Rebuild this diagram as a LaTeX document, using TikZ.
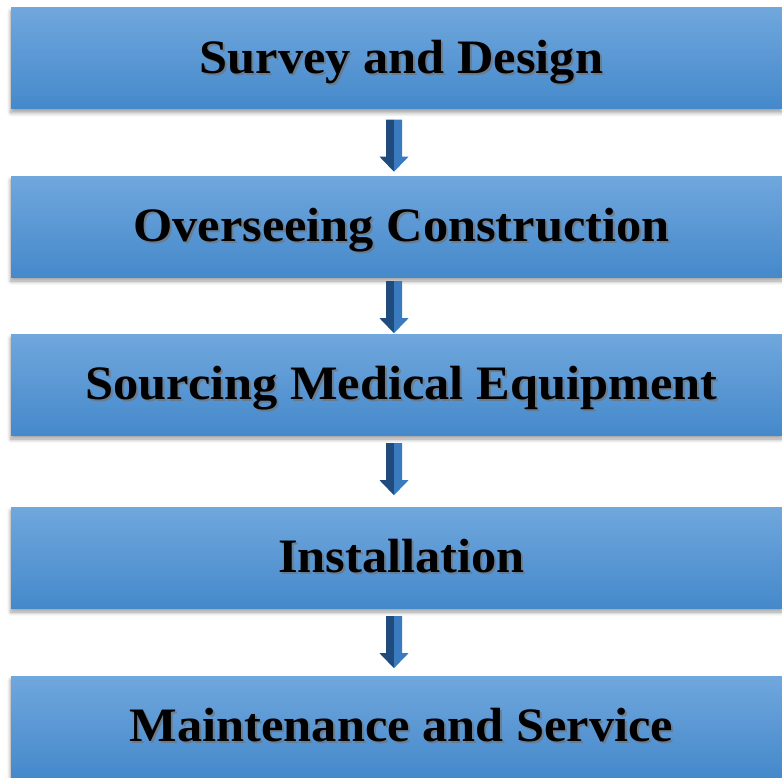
\documentclass[tikz,border=0pt]{standalone}
\usepackage{fontspec}
\setmainfont{Liberation Serif}[FakeStretch=1.05]
\usetikzlibrary{calc,positioning,shadows.blur}
\definecolor{boxtop}{HTML}{70A7DD}
\definecolor{boxbottom}{HTML}{4589CB}
\definecolor{arrowdark}{HTML}{1F4C7C}
\definecolor{arrowlight}{HTML}{3A7BC0}

\begin{document}
\begin{tikzpicture}
[x=1pt,y=-1pt,
stepbox/.style = {rectangle, minimum width=771pt, minimum height=101pt, inner sep=0pt, top color=boxtop, bottom color=boxbottom, blur shadow={shadow xshift=0pt, shadow yshift=-4pt, shadow blur steps=6, shadow blur radius=4pt}},
steptext/.style = {font=\fontsize{48}{50}\selectfont\bfseries, inner sep=0pt, anchor=base},]
\useasboundingbox (0,0) rectangle (782,777);
\foreach \name/\y/\txt in {survey/58/Survey and Design, oversee/226.5/Overseeing Construction, source/384.5/Sourcing Medical Equipment, install/557.5/Installation, maintain/726.5/Maintenance and Service}
{
\node (\name) at (396.5,\y)[stepbox] {};
\node at ($(\name.center)+(7,17)$)[steptext,black!55,opacity=.7] {\txt};
\node at ($(\name.center)+(5,15)$)[steptext] {\txt};
}
% arrows between the steps
\foreach \a/\g in {survey/11, oversee/4, source/8, install/8}
{
\coordinate (m) at ($(\a.south)+(-2.5,\g)$);
\fill[arrowdark] ($(m)+(-8,0)$) -- (m) -- ($(m)+(0,52)$) -- ($(m)+(-14.5,37)$) -- ($(m)+(-8,37)$) -- cycle;
\fill[arrowlight] (m) -- ($(m)+(8,0)$) -- ($(m)+(8,37)$) -- ($(m)+(14.5,37)$) -- ($(m)+(0,52)$) -- cycle;
}
\end{tikzpicture}
\end{document}
